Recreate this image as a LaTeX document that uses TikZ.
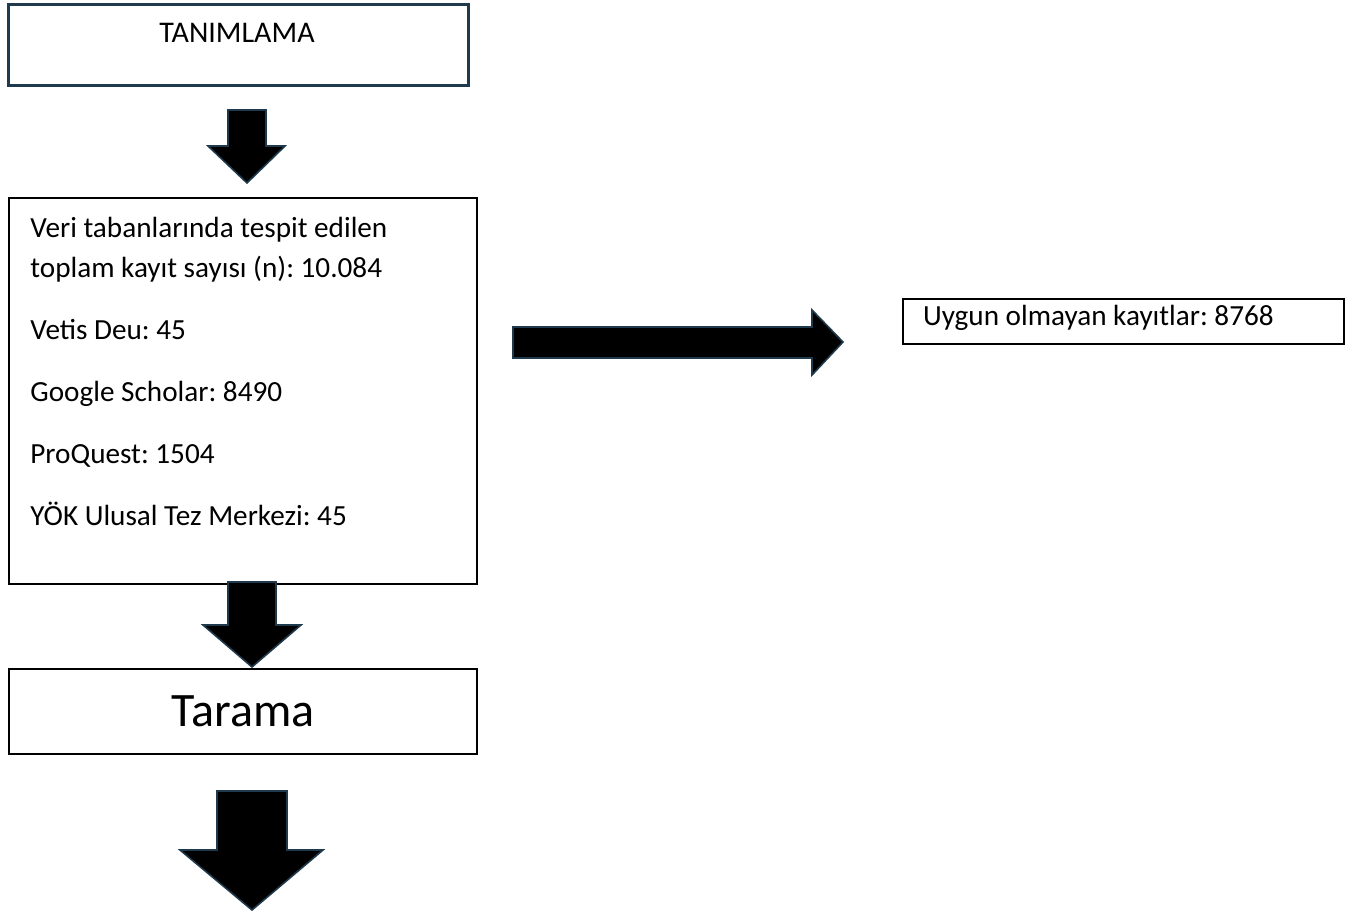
\documentclass[tikz,border=0pt]{standalone}
\usepackage{fontspec}
\setmainfont{Carlito}
\frenchspacing
\definecolor{kenar}{HTML}{1F3A4C}
\tikzset{
    kutu/.style={draw=black,line width=1pt,fill=white,inner sep=0pt,anchor=north west},
    blokok/.style={fill=black,draw=kenar,line width=0.8pt,line join=miter},
}
\begin{document}
\begin{tikzpicture}[x=0.5pt,y=-0.5pt,font=\fontsize{14.6}{20}\selectfont]
    \useasboundingbox (0,0) rectangle (1358,913);

    % kutular
    \node[kutu,draw=kenar,line width=1.3pt,minimum width=230pt,minimum height=40.5pt]
        (tanim) at (7,3) {};
    \node[anchor=base,font=\fontsize{15}{18}\selectfont]
        (tanim-yazi) at (237,43) {TANIMLAMA};

    \node[kutu,minimum width=234pt,minimum height=193pt]
        (kayit) at (8,197) {};
    \node[anchor=north west,align=left,inner sep=0pt]
        (kayit-yazi) at (30,217)
        {Veri tabanlarında tespit edilen\\
         toplam kayıt sayısı (n): 10.084\\[11pt]
         Vetis Deu: 45\\[11pt]
         Google Scholar: 8490\\[11pt]
         ProQuest: 1504\\[11pt]
         YÖK Ulusal Tez Merkezi: 45};

    \node[kutu,minimum width=234pt,minimum height=42.5pt]
        (tarama) at (8,668) {};
    \node (tarama-yazi) at (tarama.center) {\fontsize{24}{28}\selectfont Tarama};

    \node[kutu,minimum width=220.5pt,minimum height=22.5pt]
        (uygun) at (902,298) {};
    \node[anchor=base west]
        (uygun-yazi) at (916,326) {Uygun olmayan kayıtlar: 8768};

    % blok oklar
    \draw[blokok] (228,110) -- (266,110) -- (266,146) -- (285,146)
        -- (247,183) -- (208,146) -- (228,146) -- cycle;
    \draw[blokok] (228,582) -- (276,582) -- (276,625) -- (301,625)
        -- (252,667) -- (203,625) -- (228,625) -- cycle;
    \draw[blokok] (217,791) -- (287,791) -- (287,850) -- (323,850)
        -- (252,910) -- (180,850) -- (217,850) -- cycle;
    \draw[blokok] (513,327) -- (812,327) -- (812,310) -- (843,342)
        -- (812,375) -- (812,358) -- (513,358) -- cycle;
\end{tikzpicture}
\end{document}
